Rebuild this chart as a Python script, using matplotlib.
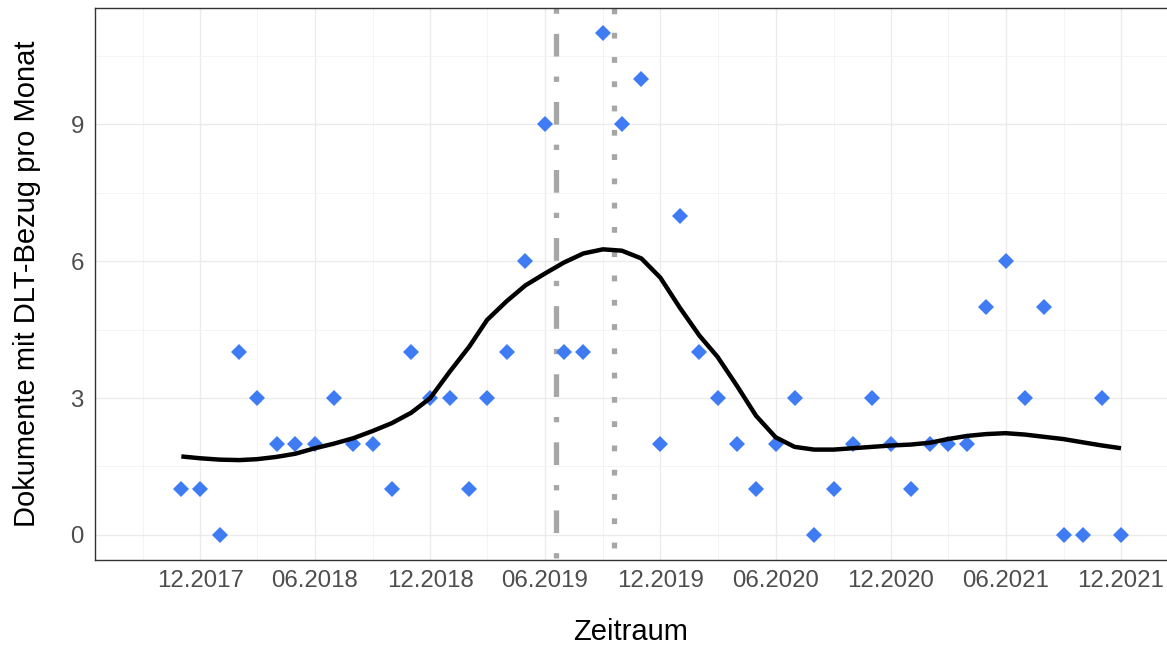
import pandas as pd
import matplotlib
matplotlib.use("Agg")
import matplotlib.pyplot as plt
import matplotlib.dates as mdates

plt.rcParams["font.family"] = ["Liberation Sans", "DejaVu Sans"]

# monatliche Werte 11.2017 - 12.2021
monate = pd.date_range("2017-11-01", "2021-12-01", freq="MS")
dokumente = [1, 1, 0, 4, 3, 2, 2, 2, 3, 2, 2, 1, 4, 3, 3, 1, 3, 4, 6, 9,
             4, 4, 11, 9, 10, 2, 7, 4, 3, 2, 1, 2, 3, 0, 1, 2, 3, 2, 1, 2,
             2, 2, 5, 6, 3, 5, 0, 0, 3, 0]
# geglaettete Kurve, je Monat
glatt = [1.72, 1.68, 1.65, 1.64, 1.66, 1.71, 1.78, 1.90, 2.00, 2.12,
         2.28, 2.45, 2.68, 3.00, 3.58, 4.13, 4.71, 5.12, 5.47, 5.73,
         5.97, 6.17, 6.26, 6.23, 6.06, 5.64, 4.98, 4.37, 3.90, 3.26,
         2.61, 2.14, 1.93, 1.87, 1.87, 1.90, 1.93, 1.96, 1.98, 2.02,
         2.10, 2.17, 2.21, 2.23, 2.20, 2.15, 2.10, 2.03, 1.96, 1.90]

ereignis_1 = pd.Timestamp("2019-06-18")
ereignis_2 = pd.Timestamp("2019-09-18")

x_ticks = pd.date_range("2017-12-01", "2021-12-01", freq="6MS")
x_minor = pd.date_range("2017-09-01", "2021-09-01", freq="6MS")
y_ticks = [0, 3, 6, 9]
y_minor = [1.5, 4.5, 7.5, 10.5]

fig = plt.figure(figsize=(11.67, 6.48), dpi=100)
ax = fig.add_axes([95 / 1167, 88 / 648, 1072 / 1167, 552 / 648])

ax.set_xlim(pd.Timestamp("2017-06-17"), pd.Timestamp("2022-02-12"))
ax.set_ylim(-0.55, 11.55)

ax.set_xticks(x_ticks)
ax.set_xticks(x_minor, minor=True)
ax.xaxis.set_major_formatter(mdates.DateFormatter("%m.%Y"))
ax.set_yticks(y_ticks)
ax.set_yticks(y_minor, minor=True)

ax.grid(True, which="major", color="#EBEBEB", lw=1.0, zorder=0)
ax.grid(True, which="minor", color="#F3F3F3", lw=0.6, zorder=0)
ax.set_axisbelow(True)

ax.tick_params(which="both", length=0)
ax.tick_params(axis="x", labelsize=17.3, labelcolor="#4D4D4D", pad=7)
ax.tick_params(axis="y", labelsize=17.3, labelcolor="#4D4D4D", pad=8)

for s in ["left", "bottom", "top"]:
    ax.spines[s].set_color("#333333")
    ax.spines[s].set_linewidth(1.0)
ax.spines["right"].set_visible(False)

# senkrechte Markierungen, von oben nach unten gezeichnet
ax.plot([ereignis_1, ereignis_1], [11.55, -0.55], color="#A6A6A6", lw=3.8,
        dashes=(1.0, 3.8, 4.3, 3.8), solid_capstyle="butt",
        dash_capstyle="butt", zorder=2)
ax.plot([ereignis_2, ereignis_2], [11.55, -0.55], color="#A6A6A6", lw=3.8,
        dashes=(1.1, 3.5), dash_capstyle="butt", zorder=2)

ax.plot(monate, dokumente, linestyle="none", marker="D", ms=8.4,
        mew=0, color="#3F7CF4", zorder=3)
ax.plot(monate, glatt, color="black", lw=3.2, zorder=4,
        solid_capstyle="butt", solid_joinstyle="round")

ax.set_xlabel("Zeitraum", fontsize=21, color="black")
ax.set_ylabel("Dokumente mit DLT-Bezug pro Monat", fontsize=21, color="black")
ax.xaxis.set_label_coords(0.5, -0.130)
ax.xaxis.label.set_va("center")
ax.yaxis.set_label_coords((27 - 95) / 1072, 0.5)
ax.yaxis.label.set_va("center")

plt.savefig("out.png", dpi=100)
